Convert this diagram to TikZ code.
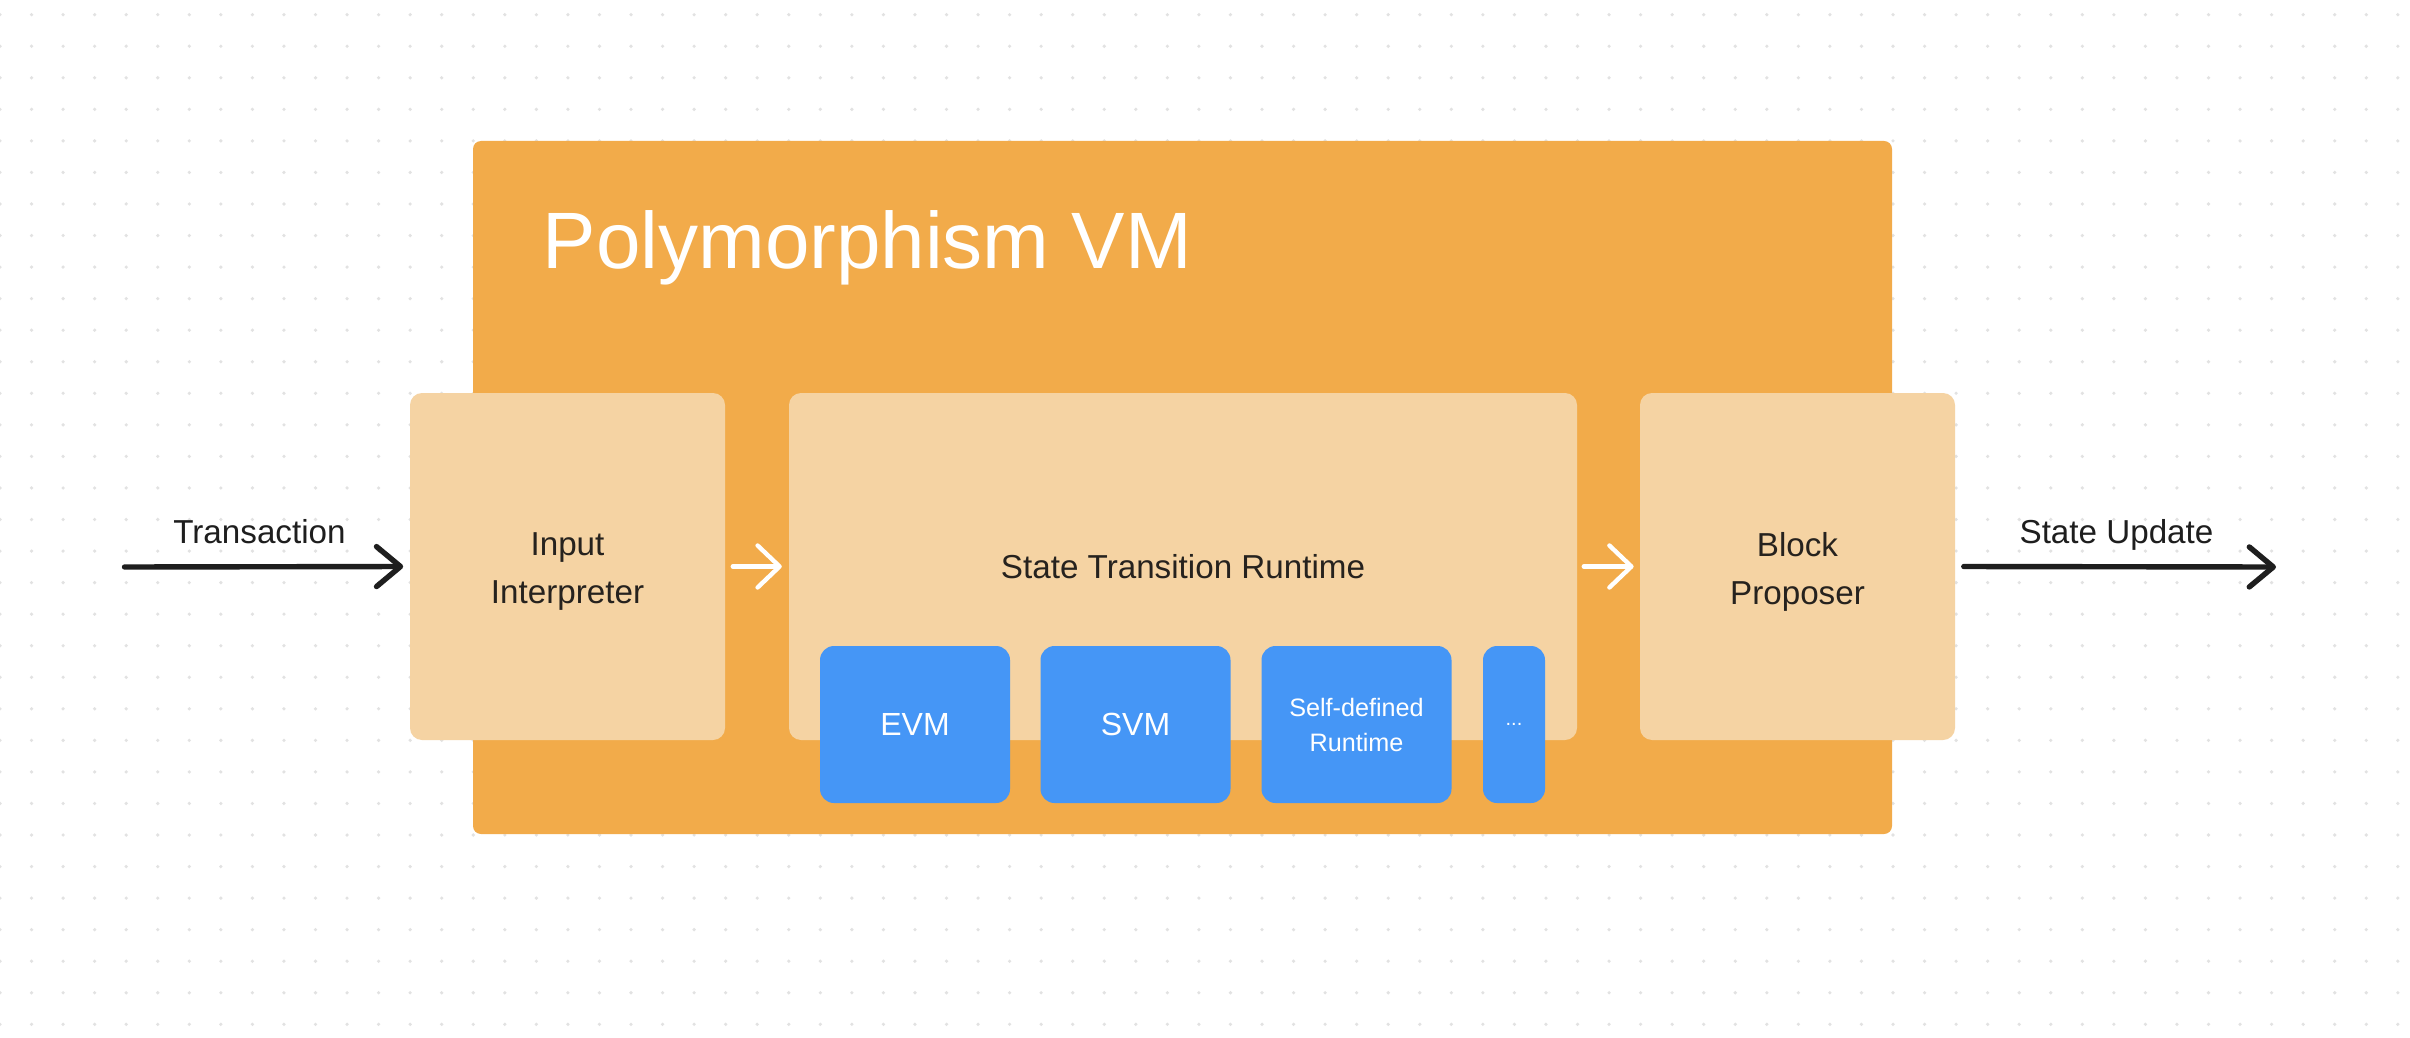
\documentclass[tikz,border=0pt]{standalone}
\usepackage{fontspec}
\setmainfont{Liberation Sans}
\usetikzlibrary{arrows.meta}
\definecolor{vmorange}{RGB}{242,171,74}
\definecolor{beige}{RGB}{245,211,163}
\definecolor{vmblue}{RGB}{69,150,246}
\definecolor{ink}{RGB}{38,34,30}
\definecolor{arrowink}{RGB}{30,30,30}
\definecolor{dotgray}{RGB}{226,226,226}
\begin{document}
\begin{tikzpicture}[x=0.25pt,y=-0.25pt,
  vmbox/.style={fill=vmorange, rounded corners=2pt, inner sep=0pt, minimum width=354.75pt, minimum height=173.25pt},
  panel/.style={fill=beige, rounded corners=3pt, inner sep=0pt, minimum width=78.75pt, minimum height=86.75pt, text=ink, font=\fontsize{8.3}{12}\selectfont, align=center},
  panellabel/.style={inner sep=0pt, text=ink, font=\fontsize{8.3}{12}\selectfont, align=center},
  rtbox/.style={fill=vmblue, rounded corners=3.5pt, inner sep=0pt, minimum width=47.5pt, minimum height=39.25pt, text=white, font=\fontsize{8}{10}\selectfont, align=center},
  outlabel/.style={anchor=base, text=arrowink, font=\fontsize{8.3}{10}\selectfont, inner sep=0pt},
  blackarrow/.style={draw=arrowink, line width=1.35pt, line cap=round, -{Straight Barb[length=6pt,width=10pt,round]}},
  whitearrow/.style={draw=white, line width=1.1pt, line cap=round, -{Straight Barb[length=5.5pt,width=10.5pt,round]}}
]
\useasboundingbox (0,0) rectangle (2410,1038);
\fill[white] (0,0) rectangle (2410,1038);
\foreach \i in {0,...,76} {
  \foreach \j in {0,...,32} {
    \fill[dotgray] (\i*31.55, 14.7+\j*31.55) circle (0.45pt);
  }
}
% outer VM box
\node[vmbox] (vm) at (1182.5,487.5) {};
\node[anchor=base west, inner sep=0pt, text=white, font=\fontsize{20}{24}\selectfont] (title) at (542,268) {Polymorphism VM};
% panels
\node[panel] (input) at (567.5,566.5) {};
\node[panellabel, yshift=-1.3pt] (inputtxt) at (input.center) {Input\\Interpreter};
\node[panel, minimum width=197pt] (str) at (1183,566.5) {State Transition Runtime};
\node[panel] (block) at (1797.5,566.5) {};
\node[panellabel, yshift=-1.3pt] (blocktxt) at (block.center) {Block\\Proposer};
% runtimes
\node[rtbox] (evm) at (915,724.5) {EVM};
\node[rtbox] (svm) at (1135.5,724.5) {SVM};
\node[rtbox, font=\fontsize{6.3}{8.75}\selectfont] (self) at (1356.5,724.5) {Self-defined\\Runtime};
\node[rtbox, minimum width=15.5pt, font=\fontsize{5}{6}\selectfont] (more) at (1514,724.5) {...};
% connectors
\coordinate (src) at (124.5,567);
\coordinate (dst) at (2276,567);
\draw[blackarrow, shorten >=1.5pt] (src) -- (input.west);
\draw[whitearrow, shorten <=1.75pt, shorten >=1.6pt] (input.east) -- (str.west);
\draw[whitearrow, shorten <=1.5pt, shorten >=1.4pt] (str.east) -- (block.west);
\draw[blackarrow, shorten <=2pt] (block.east) -- (dst);
\node[outlabel] (tx) at (259.5,543) {Transaction};
\node[outlabel] (su) at (2116.5,543) {State Update};
\end{tikzpicture}
\end{document}
